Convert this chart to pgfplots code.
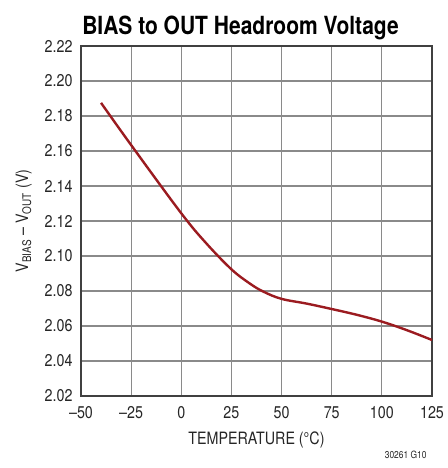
\documentclass[border=0pt]{standalone}
\usepackage{fontspec}
\setmainfont{TeX Gyre Heros}[FakeStretch=0.84]
\usepackage{pgfplots}
\pgfplotsset{compat=1.18}
\usetikzlibrary{calc}
\definecolor{curvered}{HTML}{9B1B20}
\definecolor{gridgray}{HTML}{8A8A8A}
\begin{document}
\begin{tikzpicture}
\begin{axis}[
  name=ax,
  scale only axis,
  width=351pt, height=350pt,
  xmin=-50, xmax=125, ymin=2.02, ymax=2.22,
  xtick={-50,-25,0,25,50,75,100,125},
  xticklabels={–50,–25,0,25,50,75,100,125},
  ytick={2.02,2.04,...,2.221},
  tick label style={font=\fontsize{17}{19}\selectfont, text=black!85},
  xticklabel style={yshift=-7pt},
  yticklabel style={xshift=-5pt, /pgf/number format/.cd, fixed, fixed zerofill, precision=2, assume math mode=true},
  major tick length=0pt,
  grid=major,
  major grid style={gridgray, line width=1.1pt},
  axis line style={black!75, line width=1.3pt},
  xlabel={TEMPERATURE (°C)},
  ylabel={V\textsubscript{BIAS} – V\textsubscript{OUT} (V)},
  label style={font=\fontsize{17}{19}\selectfont, text=black!85},
  xlabel style={yshift=-6pt},
  ylabel style={yshift=6pt},
  title={\textbf{BIAS to OUT Headroom Voltage}},
  title style={font=\fontsize{25}{27}\selectfont, yshift=-3pt, xshift=-16pt},
  clip=false,
]
\addplot[curvered, line width=2.4pt, smooth, tension=0.6] coordinates {
(-40,2.1875) (-25,2.1634) (0,2.1244) (12.5,2.1072) (25,2.0924) (34,2.0844) (41,2.0796) (50,2.0755) (62.5,2.0728) (75,2.0697) (87.5,2.0664) (100,2.0625) (112.5,2.0576) (125,2.0520)
};
\end{axis}
\node[anchor=base east, font=\fontsize{10}{12}\selectfont, text=black!85] at ($(ax.south east)+(-2pt,-62pt)$) {30261 G10};
\path[use as bounding box] ($(ax.south west)+(-81pt,-72pt)$) rectangle ($(ax.north east)+(14pt,46pt)$);
\end{tikzpicture}
\end{document}
